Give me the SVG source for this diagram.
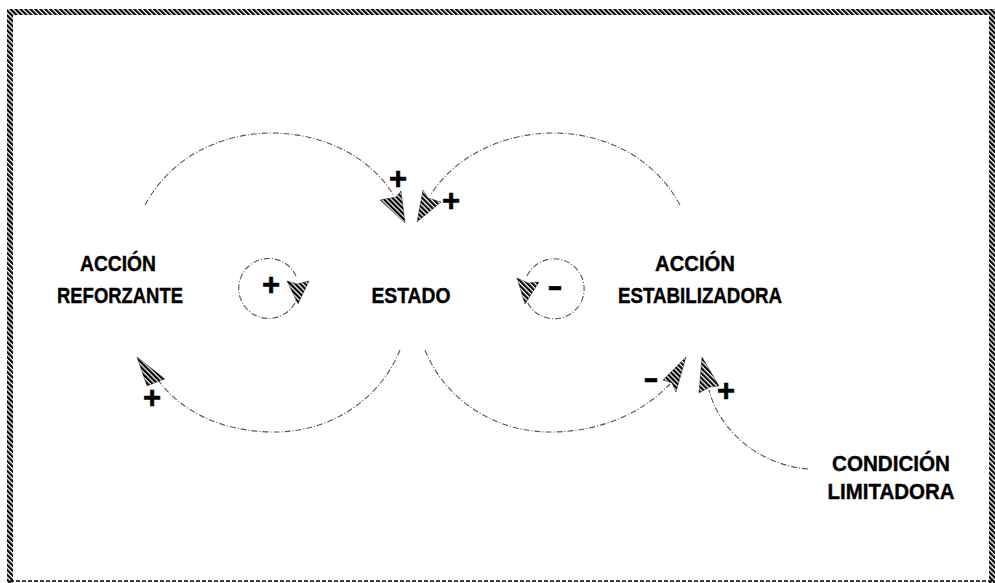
<svg xmlns="http://www.w3.org/2000/svg" width="995" height="583" viewBox="0 0 995 583">
<defs>
<pattern id="hatch" patternUnits="userSpaceOnUse" width="3.5" height="3.5" patternTransform="rotate(-45)">
<rect width="3.5" height="3.5" fill="#fff"/>
<rect width="2.2" height="3.5" fill="#000"/>
</pattern>
<style>
.lbl{font-family:"Liberation Sans",Arial,sans-serif;font-weight:bold;font-size:22.5px;fill:#000;text-anchor:middle;stroke:#000;stroke-width:0.4}
.sgn{font-family:"Liberation Sans",Arial,sans-serif;font-weight:bold;font-size:31px;fill:#000;text-anchor:middle;stroke:#000;stroke-width:0.6}
.arc{fill:none;stroke:#555;stroke-width:1.1;stroke-dasharray:6 2 1 2}
.head{fill:url(#hatch);stroke:#000;stroke-width:0.4}
</style>
</defs>
<rect width="995" height="583" fill="#fff"/>
<g id="frame">
<rect x="7" y="9" width="988" height="6" fill="url(#hatch)"/>
<rect x="7" y="9" width="6" height="574" fill="url(#hatch)"/>
<rect x="989" y="9" width="6" height="574" fill="url(#hatch)"/>
<line x1="10" y1="581" x2="992" y2="581" stroke="#000" stroke-width="1.3" stroke-dasharray="4 2"/>
</g>
<g id="connectors">
<path class="arc" d="M145 205 C175 150 230 133 272 133 C320 133 370 155 394 196"/>
<polygon class="head" points="405,223 380,200 396,197 401,191"/>
<path class="arc" d="M680 205 C650 150 595 133 553 133 C505 133 455 155 430 196"/>
<polygon class="head" points="417,222 423,190 428,198 441,202"/>
<path class="arc" d="M400 350 C380 400 330 432 275 432 C220 432 180 410 158 380"/>
<polygon class="head" points="137,357 165,379 159,381 147,386"/>
<path class="arc" d="M425 350 C445 400 495 432 550 432 C605 432 645 410 670 384"/>
<polygon class="head" points="686,357 676,392 672,383 663,380"/>
<path class="arc" d="M808 469 C760 465 720 432 709 390"/>
<polygon class="head" points="702,357 719,386 710,387 699,393"/>
<path class="arc" d="M296 276 A30 30 0 1 0 298 295"/>
<polygon class="head" points="298,304 287,281 297,284 309,281"/>
<path class="arc" d="M527 276 A30 30 0 1 1 525 296"/>
<polygon class="head" points="525,304 517,278 528,283 539,282"/>
</g>
<g id="node-accion-reforzante">
<text class="lbl" x="118" y="271" textLength="76" lengthAdjust="spacingAndGlyphs">ACCIÓN</text>
<text class="lbl" x="120" y="303" textLength="126" lengthAdjust="spacingAndGlyphs">REFORZANTE</text>
</g>
<g id="node-estado">
<text class="lbl" x="411" y="303" textLength="79" lengthAdjust="spacingAndGlyphs">ESTADO</text>
</g>
<g id="node-accion-estabilizadora">
<text class="lbl" x="695" y="271" textLength="80" lengthAdjust="spacingAndGlyphs">ACCIÓN</text>
<text class="lbl" x="700" y="303" textLength="164" lengthAdjust="spacingAndGlyphs">ESTABILIZADORA</text>
</g>
<g id="node-condicion-limitadora">
<text class="lbl" x="891" y="471" textLength="118" lengthAdjust="spacingAndGlyphs">CONDICIÓN</text>
<text class="lbl" x="891" y="499" textLength="127" lengthAdjust="spacingAndGlyphs">LIMITADORA</text>
</g>
<g id="signs">
<text class="sgn" x="398" y="189">+</text>
<text class="sgn" x="451" y="211">+</text>
<text class="sgn" x="271" y="295">+</text>
<text class="sgn" x="555" y="296" textLength="15" lengthAdjust="spacingAndGlyphs">-</text>
<text class="sgn" x="651" y="388" textLength="15" lengthAdjust="spacingAndGlyphs">-</text>
<text class="sgn" x="152" y="408">+</text>
<text class="sgn" x="726" y="401">+</text>
</g>
</svg>
